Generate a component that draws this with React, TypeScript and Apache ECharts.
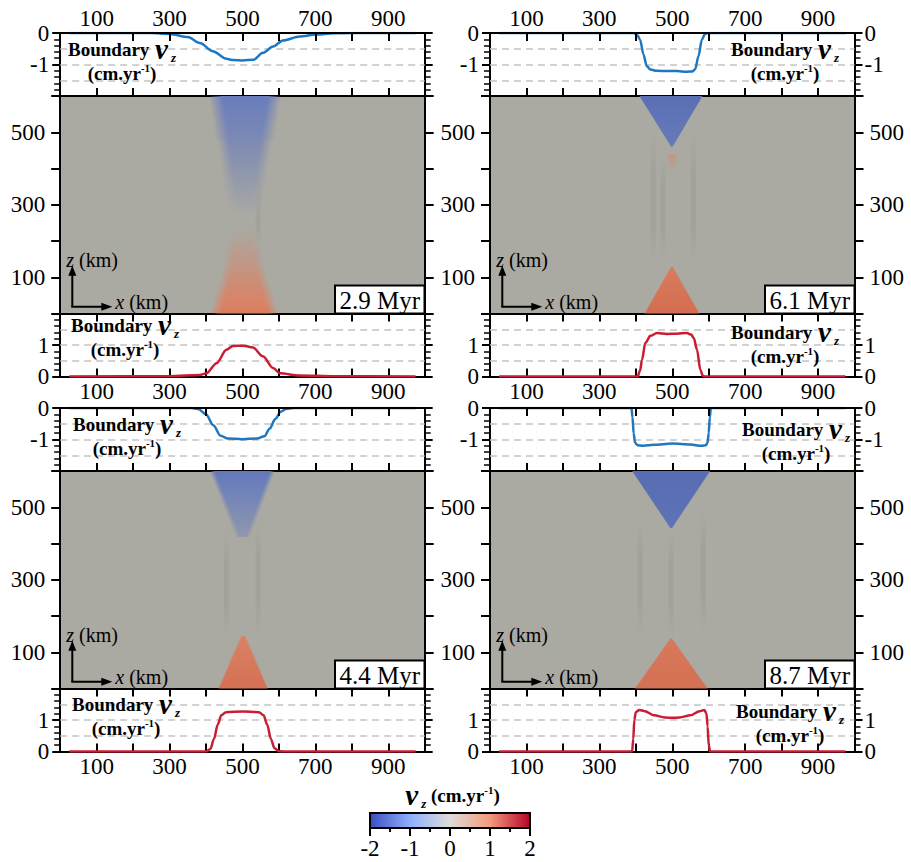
import React, { useEffect, useRef } from "react";
import * as echarts from "echarts";

const FONT = "Liberation Serif, Times New Roman, serif";

// ---------- tick labels ----------
const xTickLabels = [100, 300, 500, 700, 900];
const depthTickLabels = [100, 300, 500];
const rateTickLabels = [0, 1, -1];
const colorbarTicks = [-2, -1, 0, 1, 2];
const panelTimes = ["2.9 Myr", "6.1 Myr", "4.4 Myr", "8.7 Myr"];
const dashTop = [-0.5, -1, -1.5];
const dashBottom = [0.5, 1, 1.5];

// ---------- boundary vz curves [x km, vz cm/yr] ----------
const top_2_9 = [[25,0],[250,0],[300,-0.03],[350,-0.13],[383,-0.32],[419,-0.58],[456,-0.82],[475,-0.86],[500,-0.87],[530,-0.85],[556,-0.63],[584,-0.43],[611,-0.24],[657,-0.11],[703,-0.05],[750,-0.01],[800,0],[975,0]];
const bot_2_9 = [[25,0],[300,0.01],[383,0.05],[401,0.1],[429,0.42],[456,0.85],[474,0.97],[501,0.98],[529,0.92],[556,0.64],[584,0.27],[603,0.1],[657,0.03],[750,0.01],[975,0]];
const top_6_1 = [[25,0],[395,0],[405,-0.08],[412,-0.22],[421,-0.68],[430,-1.05],[440,-1.16],[458,-1.2],[485,-1.21],[513,-1.21],[540,-1.23],[555,-1.22],[563,-1.15],[572,-0.73],[581,-0.22],[589,-0.04],[597,0],[975,0]];
const bot_6_1 = [[25,0],[405,0],[412,0.2],[417,0.53],[426,1.06],[440,1.29],[458,1.38],[485,1.35],[513,1.36],[540,1.38],[552,1.33],[559,1.22],[568,0.85],[577,0.21],[584,0.02],[590,0],[975,0]];
const top_4_4 = [[25,0],[360,0],[380,-0.04],[400,-0.2],[420,-0.55],[440,-0.88],[460,-0.97],[500,-0.99],[540,-0.97],[560,-0.9],[575,-0.65],[590,-0.35],[605,-0.12],[620,-0.03],[640,0],[975,0]];
const bot_4_4 = [[25,0],[400,0],[412,0.08],[422,0.4],[432,0.85],[442,1.15],[455,1.25],[500,1.27],[545,1.25],[558,1.15],[568,0.85],[578,0.4],[588,0.1],[600,0.01],[610,0],[975,0]];
const top_8_7 = [[25,0],[388,0],[391,-0.3],[394,-0.8],[398,-1.1],[405,-1.18],[420,-1.2],[450,-1.17],[500,-1.13],[550,-1.16],[580,-1.2],[592,-1.18],[597,-1.1],[600,-0.8],[603,-0.3],[606,0],[975,0]];
const bot_8_7 = [[25,0],[390,0],[393,0.4],[396,1.0],[400,1.25],[410,1.32],[425,1.28],[450,1.15],[480,1.08],[500,1.07],[520,1.08],[550,1.15],[575,1.28],[588,1.32],[594,1.2],[597,0.8],[600,0.2],[604,0],[975,0]];

// ---------- vz field regions ----------
// [xLeftBase, xRightBase, zBase, xLeftTip, xRightTip, zTip, vzBase, vzTip, edgeBlurKm]
const field_2_9 = [
  [445, 570, 600, 463, 550, 480, -1.0, -0.72, 38],
  [463, 550, 480, 490, 520, 270, -0.72, 0, 32],
  [440, 570, 0, 462, 548, 80, 1.1, 0.75, 30],
  [462, 548, 80, 490, 515, 235, 0.75, 0, 26],
];
const field_6_1 = [
  [412, 581, 600, 499, 499, 460, -1.3, -1.05, 4],
  [426, 572, 0, 499, 499, 129, 1.35, 1.1, 4],
  [490, 510, 440, 496, 504, 400, 0.45, 0.15, 6],
];
const field_4_4 = [
  [424, 575, 600, 495, 508, 418, -1.1, -0.4, 15],
  [438, 566, 0, 500, 504, 145, 1.3, 1.0, 6],
];
const field_8_7 = [
  [392, 602, 600, 497, 497, 442, -1.35, -1.2, 4],
  [400, 595, 0, 497, 497, 138, 1.3, 1.15, 4],
];
// faint dark streaks [x, zBottom, zTop]
const streaks_2_9 = [[543, 175, 396]];
const streaks_6_1 = [[448, 139, 497], [475, 150, 440], [558, 139, 497]];
const streaks_4_4 = [[456, 150, 440], [543, 152, 461]];
const streaks_8_7 = [[412, 150, 460], [497, 140, 440], [585, 153, 492]];

const panels = [
  { time: panelTimes[0], top: top_2_9, bot: bot_2_9, field: field_2_9, streaks: streaks_2_9 },
  { time: panelTimes[1], top: top_6_1, bot: bot_6_1, field: field_6_1, streaks: streaks_6_1 },
  { time: panelTimes[2], top: top_4_4, bot: bot_4_4, field: field_4_4, streaks: streaks_4_4 },
  { time: panelTimes[3], top: top_8_7, bot: bot_8_7, field: field_8_7, streaks: streaks_8_7 },
];

// rendered (shaded) colour of the field
const SHADE: [number, number[]][] = [
  [-2, [55, 75, 160]],
  [-1, [105, 125, 188]],
  [0, [170, 169, 162]],
  [1, [218, 130, 100]],
  [2, [200, 70, 45]],
];
function vzRgb(v: number): number[] {
  const c = Math.max(-2, Math.min(2, v));
  for (let i = 0; i < SHADE.length - 1; i++) {
    const [a, ca] = SHADE[i];
    const [b, cb] = SHADE[i + 1];
    if (c >= a && c <= b) {
      const t = (c - a) / (b - a);
      return ca.map((x, k) => Math.round(x + (cb[k] - x) * t));
    }
  }
  return [170, 169, 162];
}

const X_LEFT = [60.2, 490];
const PW = 364.5;
const ROW_TOP = [33, 408];
const TOP_H = 63;
const HEAT_H = 217.5;

function xAx(gridIndex: number, position: string, labels: boolean, z: number) {
  return {
    type: "value", gridIndex, position, min: 0, max: 1000, interval: 100, z,
    axisLine: { show: true, onZero: false, lineStyle: { color: "#000", width: 2 } },
    axisTick: { show: true, inside: true, length: 8, lineStyle: { color: "#000", width: 2 } },
    axisLabel: {
      show: labels, margin: 3, fontSize: 23, fontFamily: FONT, color: "#000",
      formatter: (v: number) => (xTickLabels.includes(v) ? String(v) : ""),
    },
    splitLine: { show: false },
  };
}
function yLine(gridIndex: number, position: string, min: number, max: number, labels: boolean) {
  return {
    type: "value", gridIndex, position, min, max, interval: 1,
    axisLine: { show: true, onZero: false, lineStyle: { color: "#000", width: 2 } },
    axisTick: { show: true, inside: false, length: 8, lineStyle: { color: "#000", width: 2 } },
    minorTick: { show: true, splitNumber: 5, length: 6, lineStyle: { color: "#000", width: 1.5 } },
    axisLabel: {
      show: labels, margin: position === "left" ? 11 : 10, fontSize: 23, fontFamily: FONT, color: "#000",
      formatter: (v: number) => (rateTickLabels.includes(v) ? String(v) : ""),
    },
    splitLine: { show: false },
  };
}
function yHeat(gridIndex: number, position: string, labels: boolean) {
  return {
    type: "value", gridIndex, position, min: 0, max: 600, interval: 100,
    axisLine: { show: true, onZero: false, lineStyle: { color: "#000", width: 2 } },
    axisTick: { show: true, inside: false, length: 9, lineStyle: { color: "#000", width: 2 } },
    axisLabel: {
      show: labels, margin: 15, fontSize: 23, fontFamily: FONT, color: "#000",
      formatter: (v: number) => (depthTickLabels.includes(v) ? String(v) : ""),
    },
    splitLine: { show: false },
  };
}

const RICH = {
  b: { fontFamily: FONT, fontWeight: "bold", fontSize: 19, fill: "#000", color: "#000" },
  v: { fontFamily: FONT, fontWeight: "bold", fontStyle: "italic", fontSize: 29, fill: "#000", color: "#000", padding: [0, 1, 0, 1] },
  z: { fontFamily: FONT, fontWeight: "bold", fontStyle: "italic", fontSize: 13, padding: [16, 0, 0, 2], fill: "#000", color: "#000" },
  s: { fontFamily: FONT, fontWeight: "bold", fontSize: 11, padding: [0, 0, 10, 0], fill: "#000", color: "#000" },
};

function boundaryLabel(cx: number, cy: number) {
  return [
    { type: "text", x: cx, y: cy, z: 100, style: { text: "{b|Boundary }{v|v}{z|z}", rich: RICH, align: "center", verticalAlign: "middle" } },
    { type: "text", x: cx, y: cy + 24, z: 100, style: { text: "{b|(cm.yr}{s|-1}{b|)}", rich: RICH, align: "center", verticalAlign: "middle" } },
  ];
}

const labelPos = [
  { top: [122, 49], bot: [125, 325] },
  { top: [785, 49], bot: [785, 332] },
  { top: [127, 424], bot: [126, 704] },
  { top: [796, 429], bot: [790, 711] },
];

function fieldRender(params: any, api: any) {
  const xl = api.value(0), xr = api.value(1), zb = api.value(2);
  const xlt = api.value(3), xrt = api.value(4), zt = api.value(5);
  const vb = api.value(6), vt = api.value(7), soft = api.value(8);
  const yb = api.coord([xl, zb])[1];
  const yt = api.coord([xl, zt])[1];
  const y0 = Math.round(Math.min(yb, yt));
  const y1 = Math.round(Math.max(yb, yt));
  const children: any[] = [];
  for (let y = y0; y < y1; y += 1) {
    const t = (y + 0.5 - yb) / (yt - yb);
    const a = xl + (xlt - xl) * t - soft;
    const b = xr + (xrt - xr) * t + soft;
    const pa = api.coord([a, zb]);
    const pb = api.coord([b, zb]);
    const w = pb[0] - pa[0];
    if (w <= 0) continue;
    const rgb = vzRgb(vb + (vt - vb) * t);
    const col = (al: number) => `rgba(${rgb[0]},${rgb[1]},${rgb[2]},${al})`;
    const sw = Math.abs(api.coord([soft, zb])[0] - api.coord([0, zb])[0]);
    const s = Math.min(0.5, sw / w);
    children.push({
      type: "rect",
      shape: { x: pa[0], y, width: w, height: 1 },
      style: {
        fill: new echarts.graphic.LinearGradient(0, 0, 1, 0, [
          { offset: 0, color: col(0) },
          { offset: s, color: col(1) },
          { offset: 1 - s, color: col(1) },
          { offset: 1, color: col(0) },
        ]),
      },
    });
  }
  return { type: "group", children };
}

function buildOption() {
  const grid: any[] = [];
  const xAxis: any[] = [];
  const yAxis: any[] = [];
  const series: any[] = [];
  const graphic: any[] = [];

  panels.forEach((p, idx) => {
    const r = Math.floor(idx / 2);
    const c = idx % 2;
    const left = X_LEFT[c];
    const top0 = ROW_TOP[r];
    const g = grid.length;
    grid.push({ left, top: top0, width: PW, height: TOP_H });
    grid.push({ left, top: top0 + TOP_H, width: PW, height: HEAT_H, show: true, backgroundColor: "#aaa9a2", borderWidth: 0 });
    grid.push({ left, top: top0 + TOP_H + HEAT_H, width: PW, height: TOP_H });

    const xi = xAxis.length;
    xAxis.push(xAx(g, "top", r === 0, 5));
    xAxis.push(xAx(g, "bottom", false, 0));
    xAxis.push({ type: "value", gridIndex: g + 1, min: 0, max: 1000, show: false });
    xAxis.push(xAx(g + 2, "top", false, 0));
    xAxis.push(xAx(g + 2, "bottom", true, 0));

    const yi = yAxis.length;
    yAxis.push(yLine(g, "left", -2, 0, true));
    yAxis.push(yLine(g, "right", -2, 0, c === 1));
    yAxis.push(yHeat(g + 1, "left", true));
    yAxis.push(yHeat(g + 1, "right", c === 1));
    yAxis.push(yLine(g + 2, "left", 0, 2, true));
    yAxis.push(yLine(g + 2, "right", 0, 2, c === 1));

    series.push({
      type: "line", xAxisIndex: xi, yAxisIndex: yi, data: p.top, showSymbol: false,
      smooth: 0.3, smoothMonotone: "x", clip: true, z: 3,
      lineStyle: { color: "#1f77c0", width: 2.5 },
      markLine: {
        z: 1, silent: true, symbol: ["none", "none"], label: { show: false },
        lineStyle: { type: [7, 5], color: "#c4c4c4", width: 1.5 },
        data: dashTop.map((v) => ({ yAxis: v })),
      },
    });
    series.push({
      type: "line", xAxisIndex: xi + 4, yAxisIndex: yi + 4, data: p.bot, showSymbol: false,
      smooth: 0.3, smoothMonotone: "x", clip: true, z: 3,
      lineStyle: { color: "#c81d33", width: 2.5 },
      markLine: {
        z: 1, silent: true, symbol: ["none", "none"], label: { show: false },
        lineStyle: { type: [7, 5], color: "#c4c4c4", width: 1.5 },
        data: dashBottom.map((v) => ({ yAxis: v })),
      },
    });
    series.push({
      type: "custom", xAxisIndex: xi + 2, yAxisIndex: yi + 2, clip: true, silent: true,
      dimensions: ["x", "z0", "z1"], encode: { x: 0, y: [1, 2] },
      data: p.streaks,
      renderItem: (params: any, api: any) => {
        const a = api.coord([api.value(0), api.value(1)]);
        const b = api.coord([api.value(0), api.value(2)]);
        const grad = new echarts.graphic.LinearGradient(a[0], a[1], a[0], b[1], [
          { offset: 0, color: "rgba(80,80,80,0)" },
          { offset: 0.3, color: "rgba(80,80,80,0.09)" },
          { offset: 0.7, color: "rgba(80,80,80,0.09)" },
          { offset: 1, color: "rgba(80,80,80,0)" },
        ], true);
        return { type: "line", shape: { x1: a[0], y1: a[1], x2: b[0], y2: b[1] }, style: { stroke: grad, lineWidth: 5 } };
      },
    });
    series.push({
      type: "custom", xAxisIndex: xi + 2, yAxisIndex: yi + 2, clip: true, silent: true,
      dimensions: ["xl", "xr", "zb", "xlt", "xrt", "zt", "vb", "vt", "soft"],
      encode: { x: [0, 1], y: [2, 5] },
      data: p.field,
      renderItem: fieldRender,
    });

    const lp = labelPos[idx];
    graphic.push(...boundaryLabel(lp.top[0], lp.top[1]));
    graphic.push(...boundaryLabel(lp.bot[0], lp.bot[1]));

    const dx = c * 430;
    const dy = r * 375;
    const bx = 335 + dx, by = 285.5 + dy, bw = 89.5, bh = 28;
    graphic.push({ type: "rect", z: 100, shape: { x: bx, y: by, width: bw, height: bh }, style: { fill: "#fff", stroke: "#000", lineWidth: 2 } });
    graphic.push({ type: "text", z: 101, x: bx + bw / 2, y: by + bh / 2 + 1, style: { text: p.time, fontFamily: FONT, fontSize: 25, fill: "#000", align: "center", verticalAlign: "middle" } });
    const ax = 72.3 + dx, ay = 306.7 + dy;
    graphic.push({ type: "line", z: 100, shape: { x1: ax, y1: ay, x2: ax, y2: ay - 33 }, style: { stroke: "#000", lineWidth: 2 } });
    graphic.push({ type: "polygon", z: 100, shape: { points: [[ax - 4, ay - 31], [ax + 4, ay - 31], [ax, ay - 41]] }, style: { fill: "#000" } });
    graphic.push({ type: "line", z: 100, shape: { x1: ax - 1, y1: ay, x2: ax + 31, y2: ay }, style: { stroke: "#000", lineWidth: 2 } });
    graphic.push({ type: "polygon", z: 100, shape: { points: [[ax + 29, ay - 4], [ax + 29, ay + 4], [ax + 40, ay]] }, style: { fill: "#000" } });
    graphic.push({
      type: "text", z: 100, x: ax - 6, y: ay - 47,
      style: { text: "{i|z} (km)", rich: { i: { fontStyle: "italic", fontFamily: FONT, fontSize: 20, fill: "#000" } }, fontFamily: FONT, fontSize: 20, fill: "#000", align: "left", verticalAlign: "middle" },
    });
    graphic.push({
      type: "text", z: 100, x: ax + 43, y: ay - 5,
      style: { text: "{i|x} (km)", rich: { i: { fontStyle: "italic", fontFamily: FONT, fontSize: 20, fill: "#000" } }, fontFamily: FONT, fontSize: 20, fill: "#000", align: "left", verticalAlign: "middle" },
    });
  });

  // colour bar
  const cbX = 370, cbY = 813, cbW = 160, cbH = 15;
  graphic.push({
    type: "rect", z: 100, shape: { x: cbX, y: cbY, width: cbW, height: cbH },
    style: {
      fill: new echarts.graphic.LinearGradient(0, 0, 1, 0, [
        { offset: 0, color: "#3b4cc0" },
        { offset: 0.25, color: "#8db0fe" },
        { offset: 0.5, color: "#dddcdb" },
        { offset: 0.75, color: "#f49a7b" },
        { offset: 1, color: "#b40426" },
      ]),
      stroke: "#000", lineWidth: 2,
    },
  });
  colorbarTicks.forEach((t, i) => {
    const x = cbX + ((t + 2) / 4) * cbW;
    graphic.push({ type: "line", z: 100, shape: { x1: x, y1: cbY + cbH, x2: x, y2: cbY + cbH + 8 }, style: { stroke: "#000", lineWidth: 2 } });
    if (i < colorbarTicks.length - 1) {
      const xm = x + cbW / 8;
      graphic.push({ type: "line", z: 100, shape: { x1: xm, y1: cbY + cbH, x2: xm, y2: cbY + cbH + 4 }, style: { stroke: "#000", lineWidth: 2 } });
    }
    graphic.push({ type: "text", z: 100, x, y: 848, style: { text: String(t), fontFamily: FONT, fontSize: 23, fill: "#000", align: "center", verticalAlign: "middle" } });
  });
  graphic.push({
    type: "text", z: 100, x: 452, y: 795,
    style: { text: "{v|v}{z|z}{b| (cm.yr}{s|-1}{b|)}", rich: RICH, align: "center", verticalAlign: "middle" },
  });

  return {
    animation: false,
    backgroundColor: "#fff",
    grid, xAxis, yAxis, series, graphic,
  };
}

export default function App() {
  const ref = useRef<HTMLDivElement>(null);
  useEffect(() => {
    if (!ref.current) return;
    const chart = echarts.init(ref.current, null, { renderer: "svg" });
    chart.setOption(buildOption() as any);
    return () => chart.dispose();
  }, []);
  return <div ref={ref} style={{ position: "fixed", left: 0, top: 0, width: 911, height: 862, background: "#fff" }} />;
}
